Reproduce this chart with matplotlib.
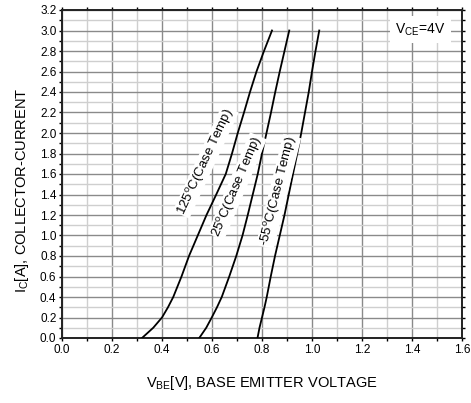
import matplotlib
matplotlib.use("Agg")
import matplotlib.pyplot as plt
from matplotlib.ticker import MultipleLocator, FormatStrFormatter

plt.rcParams['font.family'] = ['Liberation Sans', 'DejaVu Sans']
plt.rcParams['mathtext.fontset'] = 'custom'
plt.rcParams['mathtext.rm'] = 'Liberation Sans'
plt.rcParams['mathtext.it'] = 'Liberation Sans:italic'

# collector current points (A)
ic = [0.0, 0.1, 0.2, 0.3, 0.4, 0.6, 0.8, 1.0, 1.2, 1.4, 1.6, 1.8, 2.0, 2.2, 2.4, 2.6, 2.8, 3.0]
# base-emitter voltage (V) for each case temperature
vbe_125 = [0.32, 0.365, 0.40, 0.424, 0.445, 0.478, 0.508, 0.543, 0.578, 0.617,
           0.655, 0.68, 0.703, 0.728, 0.752, 0.778, 0.808, 0.84]
vbe_25 = [0.549, 0.577, 0.599, 0.62, 0.639, 0.669, 0.697, 0.722, 0.743, 0.763,
          0.783, 0.80, 0.818, 0.836, 0.853, 0.871, 0.89, 0.909]
vbe_m55 = [0.782, 0.79, 0.80, 0.81, 0.819, 0.835, 0.852, 0.871, 0.89, 0.907,
           0.924, 0.941, 0.957, 0.972, 0.987, 1.0, 1.014, 1.029]

curve_labels = ["125$^{\\rm o}$C(Case Temp)", "25$^{\\rm o}$C(Case Temp)", "-55$^{\\rm o}$C(Case Temp)"]

fig = plt.figure(figsize=(4.71, 4.03), dpi=100)
ax = fig.add_axes([62 / 471, 65 / 403, 400 / 471, 328 / 403])

for v in (vbe_125, vbe_25, vbe_m55):
    ax.plot(v, ic, color='black', lw=1.3, zorder=3)

ax.set_xlim(0, 1.6)
ax.set_ylim(0, 3.2)
ax.xaxis.set_major_locator(MultipleLocator(0.2))
ax.xaxis.set_minor_locator(MultipleLocator(0.1))
ax.yaxis.set_major_locator(MultipleLocator(0.2))
ax.yaxis.set_minor_locator(MultipleLocator(0.1))
ax.xaxis.set_major_formatter(FormatStrFormatter('%.1f'))
ax.yaxis.set_major_formatter(FormatStrFormatter('%.1f'))

ax.grid(which='major', color='#8a8a8a', lw=1.0)
ax.grid(which='minor', color='#cfcfcf', lw=1.0)
ax.set_axisbelow(True)

ax.tick_params(which='both', direction='out', length=2, width=1, labelsize=8.5,
               top=True, right=True, colors='black', pad=2)
for s in ax.spines.values():
    s.set_linewidth(1.4)
    s.set_color('#222222')

box = dict(facecolor='white', edgecolor='none', pad=0.5)
ax.text(0.575, 1.72, curve_labels[0], rotation=65, fontsize=9.5,
        ha='center', va='center', bbox=box, zorder=4)
ax.text(0.70, 1.48, curve_labels[1], rotation=67, fontsize=9.5,
        ha='center', va='center', bbox=box, zorder=4)
ax.text(0.866, 1.43, curve_labels[2], rotation=76, fontsize=9.5,
        ha='center', va='center', bbox=box, zorder=4)

ax.text(1.535, 3.01, "V$_{\\rm CE}$=4V", fontsize=10, ha='right', va='center',
        bbox=dict(facecolor='white', edgecolor='none', pad=4), zorder=4)

fig.text(262 / 471, 1 - 383 / 403, "V$_{\\rm BE}$[V], BASE EMITTER VOLTAGE",
         fontsize=10.5, ha='center', va='center')
fig.text(22 / 471, 1 - 190 / 403, "I$_{\\rm C}$[A], COLLECTOR-CURRENT",
         fontsize=10.5, ha='center', va='center', rotation=90)

plt.savefig('out.png', dpi=100)
